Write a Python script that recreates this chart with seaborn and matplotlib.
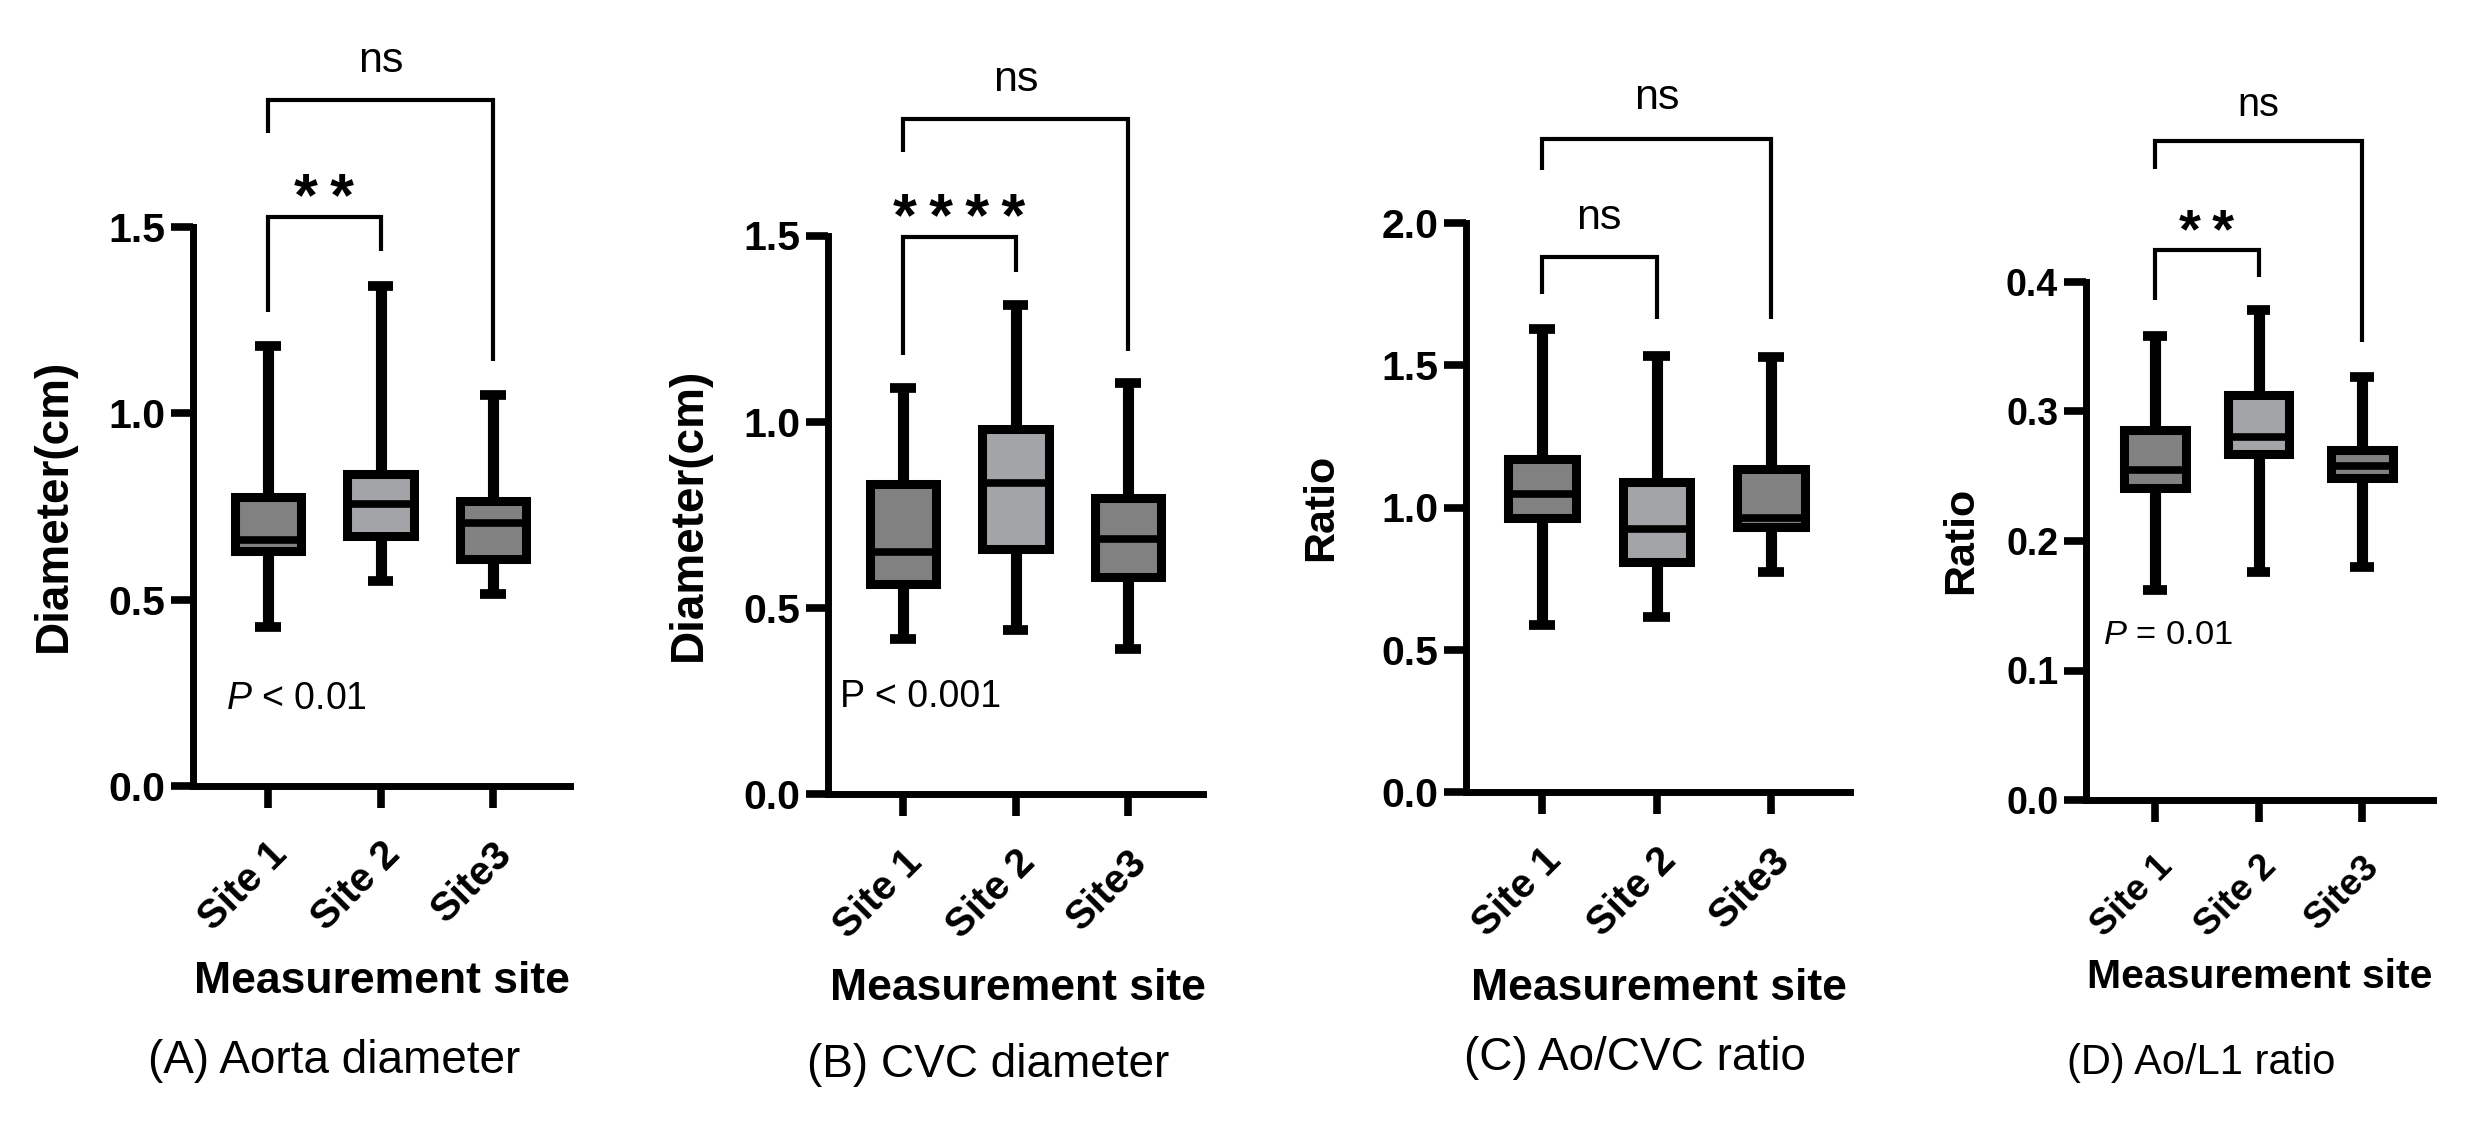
import numpy as np
import pandas as pd
import matplotlib
matplotlib.use("Agg")
import matplotlib.pyplot as plt
import seaborn as sns

# ---------------- data (five-number summaries: min, Q1, median, Q3, max) ----------------
sites = ["Site 1", "Site 2", "Site3"]

aorta_site1 = [0.426, 0.630, 0.660, 0.775, 1.181]
aorta_site2 = [0.550, 0.671, 0.758, 0.838, 1.342]
aorta_site3 = [0.516, 0.609, 0.706, 0.765, 1.049]

cvc_site1 = [0.416, 0.564, 0.651, 0.832, 1.090]
cvc_site2 = [0.441, 0.657, 0.836, 0.979, 1.313]
cvc_site3 = [0.389, 0.584, 0.686, 0.794, 1.103]

aocvc_site1 = [0.588, 0.963, 1.047, 1.170, 1.629]
aocvc_site2 = [0.614, 0.807, 0.924, 1.091, 1.531]
aocvc_site3 = [0.774, 0.930, 0.963, 1.134, 1.529]

aol1_site1 = [0.1625, 0.241, 0.2545, 0.2856, 0.3586]
aol1_site2 = [0.176, 0.267, 0.280, 0.313, 0.378]
aol1_site3 = [0.180, 0.2486, 0.2576, 0.270, 0.327]

y_labels = ["Diameter(cm)", "Diameter(cm)", "Ratio", "Ratio"]
captions = ["(A) Aorta diameter", "(B) CVC diameter", "(C) Ao/CVC ratio", "(D) Ao/L1 ratio"]
p_texts = [r"$\mathit{P}$ < 0.01", "P < 0.001", None, r"$\mathit{P}$ = 0.01"]
sig_inner = ["**", "****", "ns", "**"]
sig_outer = ["ns", "ns", "ns", "ns"]

# ---------------- style ----------------
sns.set_theme(style="ticks")
plt.rcParams["font.family"] = ["Liberation Sans", "DejaVu Sans"]
plt.rcParams["mathtext.fontset"] = "custom"
plt.rcParams["mathtext.it"] = "Liberation Sans:italic"
plt.rcParams["mathtext.rm"] = "Liberation Sans"
for key in ("text.color", "axes.labelcolor", "xtick.color", "ytick.color",
            "xtick.labelcolor", "ytick.labelcolor", "axes.edgecolor"):
    plt.rcParams[key] = "black"

DARK = "#818181"
LIGHT = "#a3a4a8"

W, H = 2485, 1136
fig = plt.figure(figsize=(W / 100, H / 100), dpi=100)

# layout in pixels: (x_left_axis, x_right_end, y_bottom, y_top)
layout = [
    (193, 570, 786, 227),
    (828, 1203, 794, 235.5),
    (1466, 1850, 792, 223),
    (2086, 2433, 800, 282),
]
first_tick_px = [268, 903, 1542, 2155]
tick_step_px = [112.5, 112.5, 114.5, 103.5]
ylims = [(0, 1.5), (0, 1.5), (0, 2.0), (0, 0.4)]
yticks = [np.arange(0, 1.51, 0.5), np.arange(0, 1.51, 0.5), np.arange(0, 2.01, 0.5), np.arange(0, 0.401, 0.1)]

# brackets: (top, left_leg_bottom, right_leg_bottom, text_baseline)
inner_br = [(1.527, 1.271, 1.436, 1.530), (1.496, 1.179, 1.403, 1.498),
            (1.880, 1.752, 1.663, 1.979), (0.425, 0.386, 0.404, 0.426)]
outer_br = [(1.840, 1.753, 1.140, 1.917), (1.812, 1.724, 1.189, 1.887),
            (2.295, 2.185, 1.663, 2.400), (0.509, 0.487, 0.354, 0.528)]
p_pos = [(-0.373, 0.234), (-0.56, 0.26), None, (-0.50, 0.127)]

ylabel_px = [(54, 505), (689, 514), (1321, 507), (1961, 540)]
xlabel_px = [(382, 993), (1018, 1000), (1659, 1000), (2260, 988)]
caption_px = [(334, 1073), (988, 1077), (1635, 1070), (2201, 1074)]

scale = [1.0, 1.0, 1.0, 0.92]

datasets = [
    [aorta_site1, aorta_site2, aorta_site3],
    [cvc_site1, cvc_site2, cvc_site3],
    [aocvc_site1, aocvc_site2, aocvc_site3],
    [aol1_site1, aol1_site2, aol1_site3],
]

for i in range(4):
    x0, x1, yb, yt = layout[i]
    ax = fig.add_axes([x0 / W, 1 - yb / H, (x1 - x0) / W, (yb - yt) / H])
    s = scale[i]
    vals = datasets[i]
    df = pd.DataFrame({
        "site": np.repeat(sites, [len(v) for v in vals]),
        "value": np.concatenate(vals),
    })
    sns.boxplot(data=df, x="site", y="value", hue="site", order=sites, hue_order=sites,
                palette=[DARK, LIGHT, DARK], saturation=1, whis=(0, 100), width=0.59,
                showfliers=False, linecolor="black", linewidth=6.5, capwidths=0.23,
                medianprops=dict(linewidth=5.5, color="black"),
                whiskerprops=dict(linewidth=8, color="black"),
                capprops=dict(linewidth=7, color="black", solid_capstyle="butt"),
                legend=False, ax=ax)
    lo = (x0 - first_tick_px[i]) / tick_step_px[i]
    hi = (x1 - first_tick_px[i]) / tick_step_px[i]
    ax.set_xlim(lo, hi)
    ax.set_ylim(*ylims[i])
    ax.set_yticks(yticks[i])
    ax.set_yticklabels([f"{t:.1f}" for t in yticks[i]], fontweight="bold", fontsize=29.5 * s)
    ax.set_xticks(range(3))
    ax.set_xticklabels(sites, rotation=45, ha="right", va="top", rotation_mode="anchor",
                       fontweight="bold", fontsize=29 * s)
    sns.despine(ax=ax)
    for sp in ("left", "bottom"):
        ax.spines[sp].set_linewidth(5)
        ax.spines[sp].set_color("black")
    ax.tick_params(axis="both", length=16, width=5.5, color="black", labelcolor="black",
                   direction="out")
    ax.tick_params(axis="y", pad=4)
    ax.tick_params(axis="x", pad=19)
    ax.set_facecolor("none")

    # labels
    ax.set_xlabel("Measurement site", fontweight="bold", fontsize=32 * s, color="black")
    ax.xaxis.label.set_va("baseline")
    cx, cy = xlabel_px[i]
    ax.xaxis.set_label_coords((cx - x0) / (x1 - x0), (yb - cy) / (yb - yt))
    ax.set_ylabel(y_labels[i], fontweight="bold", fontsize=(33 if i < 2 else 31), color="black")
    ax.yaxis.label.set_va("center")
    lx, ly = ylabel_px[i]
    ax.yaxis.set_label_coords((lx - x0) / (x1 - x0), (yb - ly) / (yb - yt))

    # significance brackets
    for (x_a, x_b), br, lab in (((0, 1), inner_br[i], sig_inner[i]), ((0, 2), outer_br[i], sig_outer[i])):
        top, lb, rb, tb = br
        ax.plot([x_a, x_a, x_b, x_b], [lb, top, top, rb], color="black", lw=3,
                clip_on=False, solid_joinstyle="miter", solid_capstyle="butt")
        if "*" in lab:
            ax.text((x_a + x_b) / 2, tb, "\u2009".join(lab), ha="center", va="baseline",
                    fontsize=44 * s, fontweight="bold", color="black", clip_on=False)
        else:
            ax.text((x_a + x_b) / 2, tb, lab, ha="center", va="baseline",
                    fontsize=31 * s, color="black", clip_on=False)

    if p_texts[i] is not None:
        px_, py_ = p_pos[i]
        ax.text(px_, py_, p_texts[i], ha="left", va="center", color="black",
                fontsize=27 * (0.92 if i == 3 else 1))

    capx, capy = caption_px[i]
    fig.text(capx / W, 1 - capy / H, captions[i], ha="center", va="baseline", color="black",
             fontsize=(33 if i < 3 else 30))

fig.savefig("out.png", dpi=100, facecolor="white")
